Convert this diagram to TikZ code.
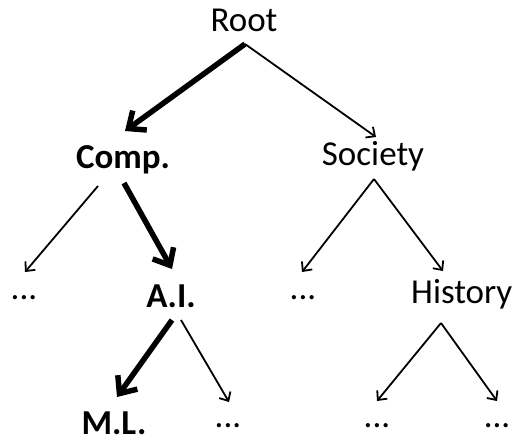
\documentclass[tikz,border=0pt]{standalone}
\usepackage{fontspec}
\setmainfont{Carlito}
\usetikzlibrary{arrows.meta}
\tikzset{
  lbl/.style={inner sep=0pt, anchor=base, font=\fontsize{35}{40}\selectfont},
  blbl/.style={lbl, font=\fontsize{35}{40}\selectfont\bfseries},
  thin arrow/.style={line width=1.8pt, -{Straight Barb[length=7pt,width=13pt]}},
  thick arrow/.style={line width=5.5pt, -{Straight Barb[length=14pt,width=24pt]}}
}
\begin{document}
\begin{tikzpicture}[x=1pt,y=-1pt]
\useasboundingbox (0,0) rectangle (512,440);
\node[lbl]  (root)    at (244,31)  {Root};
\node[blbl] (comp)    at (123,168) {Comp.};
\node[lbl]  (society) at (373,165) {Society};
\node[lbl]  (dotsL)   at (24,299)  {...};
\node[blbl] (ai)      at (171,307) {A.I.};
\node[lbl]  (dotsM)   at (303,299) {...};
\node[lbl, anchor=base west] (history) at (411,303) {History};
\node[blbl] (ml)      at (114,434) {M.L.};
\node[lbl]  (dotsA)   at (228,427) {...};
\node[lbl]  (dotsH1)  at (377,427) {...};
\node[lbl]  (dotsH2)  at (497,427) {...};

\draw[thick arrow] ([shift={(1,13)}]root.base) -- ([shift={(2,-37)}]comp.base);
\draw[thin arrow]  ([shift={(1,13)}]root.base) -- ([shift={(3,-28)}]society.base);
\draw[thin arrow]  ([shift={(-25,18)}]comp.base) -- ([shift={(1,-27)}]dotsL.base);
\draw[thick arrow] ([shift={(1,15)}]comp.base) -- ([shift={(1,-38)}]ai.base);
\draw[thin arrow]  ([shift={(1,14)}]society.base) -- ([shift={(-1,-27)}]dotsM.base);
\draw[thin arrow]  ([shift={(1,14)}]society.base) -- ([shift={(32,-32)}]history.base west);
\draw[thick arrow] ([shift={(1,13)}]ai.base) -- ([shift={(3,-37)}]ml.base);
\draw[thin arrow]  ([shift={(10,13)}]ai.base) -- ([shift={(1,-25)}]dotsA.base);
\draw[thin arrow]  ([shift={(30,20)}]history.base west) -- ([shift={(0,-26)}]dotsH1.base);
\draw[thin arrow]  ([shift={(30,20)}]history.base west) -- ([shift={(0,-26)}]dotsH2.base);
\end{tikzpicture}
\end{document}
